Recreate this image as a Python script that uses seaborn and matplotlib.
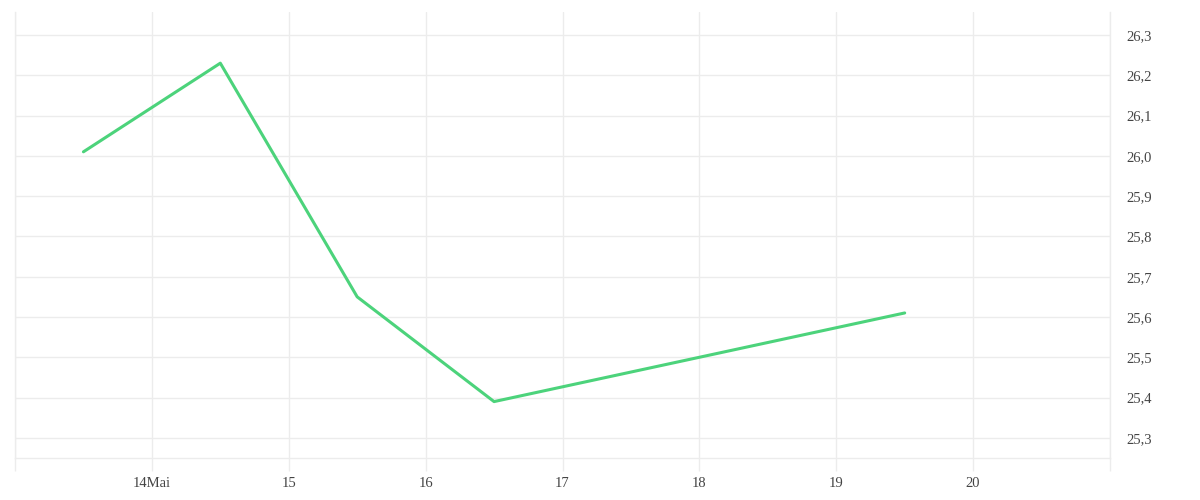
import pandas as pd
import numpy as np
import matplotlib.pyplot as plt
import matplotlib.dates as mdates
from matplotlib.ticker import FuncFormatter, MultipleLocator
import seaborn as sns

# data (daily values, plotted at noon)
dates = ["2024-05-13 12:00", "2024-05-14 12:00", "2024-05-15 12:00",
         "2024-05-16 12:00", "2024-05-19 12:00"]
values = [26.01, 26.23, 25.65, 25.39, 25.61]

df = pd.DataFrame({"date": pd.to_datetime(dates), "value": values})

sns.set_style("white")
plt.rcParams['font.family'] = ['Liberation Serif', 'DejaVu Serif']

fig = plt.figure(figsize=(12, 5), dpi=100)
ax = fig.add_axes([0.0125, 0.084, 0.9125, 0.892])

sns.lineplot(data=df, x="date", y="value", ax=ax, color="#4cd37b", linewidth=2.2)

grid_col = "#ececec"
ax.set_xlim(pd.Timestamp("2024-05-13 00:00"), pd.Timestamp("2024-05-21 00:00"))
ax.set_ylim(25.25, 26.357)

ax.yaxis.set_major_locator(MultipleLocator(0.1))
ax.yaxis.tick_right()
ax.yaxis.set_major_formatter(FuncFormatter(lambda v, p: f"{v:.1f}".replace(".", ",")))
ax.tick_params(axis="y", length=0, pad=12, labelsize=10.5, labelcolor="#444444")


def day_label(v, p):
    d = mdates.num2date(v).day
    if d in (13, 21):
        return ""
    return "14Mai" if d == 14 else str(d)


ax.xaxis.set_major_locator(mdates.DayLocator())
ax.xaxis.set_major_formatter(FuncFormatter(day_label))
ax.tick_params(axis="x", bottom=True, length=9, width=1, color=grid_col, pad=5,
               labelsize=10.5, labelcolor="#444444")

ax.grid(True, color=grid_col, linewidth=1)
for side in ["left", "right", "bottom"]:
    ax.spines[side].set_color(grid_col)
    ax.spines[side].set_linewidth(1)
ax.spines["top"].set_visible(False)

ax.set_xlabel("")
ax.set_ylabel("")

fig.savefig("out.png", dpi=100)
